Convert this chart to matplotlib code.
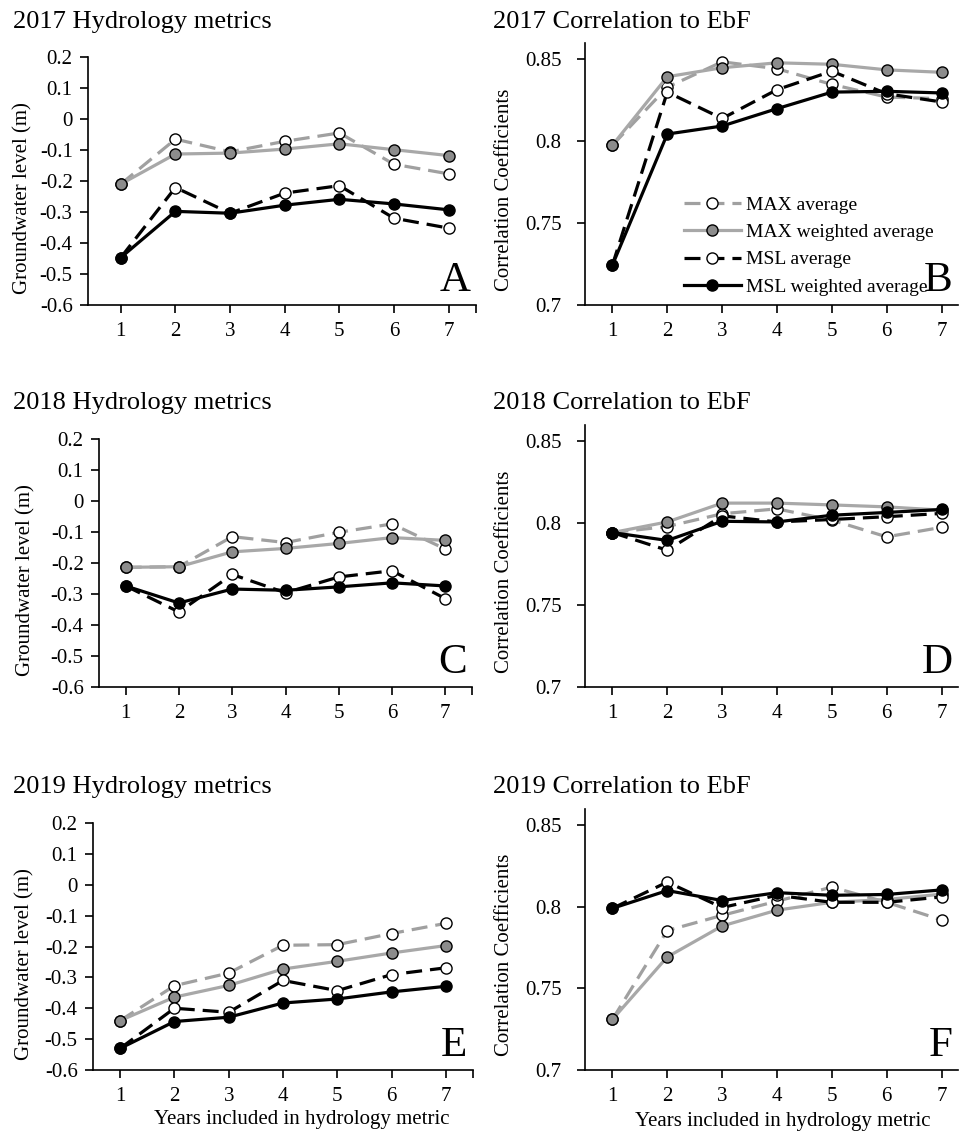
import matplotlib
matplotlib.use("Agg")
import matplotlib.pyplot as plt

plt.rcParams['font.family'] = ['Liberation Serif', 'DejaVu Serif']

years = [1, 2, 3, 4, 5, 6, 7]
series_names = ["MAX average", "MAX weighted average", "MSL average", "MSL weighted average"]

# groundwater level (m)
hydro_2017_max_avg = [-0.21, -0.065, -0.106, -0.072, -0.045, -0.146, -0.177]
hydro_2017_max_wavg = [-0.21, -0.113, -0.110, -0.097, -0.080, -0.099, -0.118]
hydro_2017_msl_avg = [-0.447, -0.221, -0.304, -0.239, -0.215, -0.320, -0.352]
hydro_2017_msl_wavg = [-0.447, -0.298, -0.304, -0.278, -0.259, -0.274, -0.293]

hydro_2018_max_avg = [-0.214, -0.212, -0.115, -0.134, -0.101, -0.074, -0.155]
hydro_2018_max_wavg = [-0.214, -0.212, -0.164, -0.153, -0.137, -0.118, -0.127]
hydro_2018_msl_avg = [-0.274, -0.358, -0.237, -0.296, -0.245, -0.225, -0.315]
hydro_2018_msl_wavg = [-0.274, -0.329, -0.284, -0.288, -0.277, -0.264, -0.274]

hydro_2019_max_avg = [-0.440, -0.327, -0.286, -0.196, -0.194, -0.158, -0.125]
hydro_2019_max_wavg = [-0.440, -0.364, -0.326, -0.273, -0.248, -0.221, -0.197]
hydro_2019_msl_avg = [-0.530, -0.400, -0.413, -0.310, -0.343, -0.291, -0.269]
hydro_2019_msl_wavg = [-0.530, -0.443, -0.429, -0.383, -0.370, -0.347, -0.329]

# correlation to EbF
corr_2017_max_avg = [0.7976, 0.833, 0.8485, 0.8443, 0.8347, 0.827, 0.826]
corr_2017_max_wavg = [0.7976, 0.8394, 0.8449, 0.8479, 0.847, 0.8436, 0.8421]
corr_2017_msl_avg = [0.7244, 0.830, 0.8139, 0.8315, 0.8428, 0.829, 0.824]
corr_2017_msl_wavg = [0.7244, 0.8044, 0.8093, 0.8199, 0.830, 0.8305, 0.8295]

corr_2018_max_avg = [0.7943, 0.798, 0.8058, 0.8088, 0.8019, 0.7917, 0.7975]
corr_2018_max_wavg = [0.7943, 0.8008, 0.8123, 0.8123, 0.8112, 0.810, 0.808]
corr_2018_msl_avg = [0.7943, 0.7835, 0.8045, 0.8008, 0.8023, 0.804, 0.806]
corr_2018_msl_wavg = [0.7943, 0.7895, 0.8012, 0.8008, 0.8049, 0.8066, 0.8084]

corr_2019_max_avg = [0.731, 0.7855, 0.7948, 0.8035, 0.8121, 0.8028, 0.792]
corr_2019_max_wavg = [0.731, 0.7693, 0.7883, 0.798, 0.8028, 0.8045, 0.8078]
corr_2019_msl_avg = [0.7991, 0.8152, 0.7996, 0.8071, 0.8028, 0.8028, 0.8061]
corr_2019_msl_wavg = [0.7991, 0.810, 0.8039, 0.8087, 0.8071, 0.8076, 0.8104]

hydro = {
    2017: [hydro_2017_max_avg, hydro_2017_max_wavg, hydro_2017_msl_avg, hydro_2017_msl_wavg],
    2018: [hydro_2018_max_avg, hydro_2018_max_wavg, hydro_2018_msl_avg, hydro_2018_msl_wavg],
    2019: [hydro_2019_max_avg, hydro_2019_max_wavg, hydro_2019_msl_avg, hydro_2019_msl_wavg],
}
corr = {
    2017: [corr_2017_max_avg, corr_2017_max_wavg, corr_2017_msl_avg, corr_2017_msl_wavg],
    2018: [corr_2018_max_avg, corr_2018_max_wavg, corr_2018_msl_avg, corr_2018_msl_wavg],
    2019: [corr_2019_max_avg, corr_2019_max_wavg, corr_2019_msl_avg, corr_2019_msl_wavg],
}

styles = [
    dict(color='#a0a0a0', ls=(0, (5, 2.5)), mfc='white'),
    dict(color='#a8a8a8', ls='-', mfc='#8c8c8c'),
    dict(color='black', ls=(0, (5, 2.5)), mfc='white'),
    dict(color='black', ls='-', mfc='black'),
]

W, H = 960, 1131
fig = plt.figure(figsize=(W / 100, H / 100), dpi=100)


def box(left, top, right, bottom):
    return [left / W, 1 - bottom / H, (right - left) / W, (bottom - top) / H]


# year, top, bottom, left-panel left/right/xmin, letters, title y
rows = [
    (2017, 57, 305, 88, 476, 0.4, 'A', 'B', 22),
    (2018, 439, 687, 99, 472, 0.5, 'C', 'D', 403),
    (2019, 823, 1070, 93, 473, 0.5, 'E', 'F', 787),
]

for year, top, bottom, l_left, l_right, l_xmin, la, lb, ty in rows:
    axl = fig.add_axes(box(l_left, top, l_right, bottom))
    axr = fig.add_axes(box(585, top - 14, 958, bottom))

    for ax, data, ylim, yticks, ylab, letter, pad in [
        (axl, hydro[year], (-0.6, 0.2), [-0.6, -0.5, -0.4, -0.3, -0.2, -0.1, 0, 0.1, 0.2],
         "Groundwater level (m)", la, 5),
        (axr, corr[year], (0.7, 0.86), [0.7, 0.75, 0.8, 0.85], "Correlation Coefficients", lb, 11),
    ]:
        for vals, st, name in zip(data, styles, series_names):
            ax.plot(years, vals, color=st['color'], ls=st['ls'], lw=2.3,
                    marker='o', ms=8, mfc=st['mfc'], mec='black', mew=1.0,
                    label=name)
        ax.set_ylim(*ylim)
        ax.set_yticks(yticks)
        ax.set_yticklabels(["0" if v == 0 else f"{v:g}" for v in yticks])
        ax.set_xticks(years)
        ax.set_xticklabels([str(y) for y in years])
        for s in ['top', 'right']:
            ax.spines[s].set_visible(False)
        for s in ['left', 'bottom']:
            ax.spines[s].set_linewidth(1.2)
        ax.tick_params(direction='out', length=6, width=1.2, labelsize=15, pad=6)
        ax.tick_params(axis='y', pad=pad)
        ax.set_ylabel(ylab, fontsize=15)
        ax.text(0.985, 0.02, letter, transform=ax.transAxes, ha='right', va='bottom',
                fontsize=31)

    axl.set_xlim(l_xmin, 7.5)
    axr.set_xlim(0.5, 7.3)
    axl.set_xticks([7.5], minor=True)
    axl.tick_params(which='minor', direction='out', length=6, width=1.2)
    axl.yaxis.set_label_coords(-0.155 - (l_left - 93) / (l_right - l_left), 0.43)
    axr.yaxis.set_label_coords(-0.19, 0.44)

    fig.text(13 / W, 1 - ty / H, f"{year} Hydrology metrics", fontsize=19, va='center')
    fig.text(493 / W, 1 - ty / H, f"{year} Correlation to EbF", fontsize=19, va='center')

    if year == 2017:
        axr.legend(loc='upper left', bbox_to_anchor=(0.245, 0.445), frameon=False,
                   fontsize=14, handlelength=2.9, handletextpad=0.3,
                   labelspacing=0.5, borderaxespad=0)
    if year == 2019:
        axl.set_xlabel("Years included in hydrology metric", fontsize=15)
        axr.set_xlabel("Years included in hydrology metric", fontsize=15)
        axl.xaxis.set_label_coords(0.55, -0.16)
        axr.xaxis.set_label_coords(0.53, -0.16)

fig.savefig("out.png", dpi=100)
